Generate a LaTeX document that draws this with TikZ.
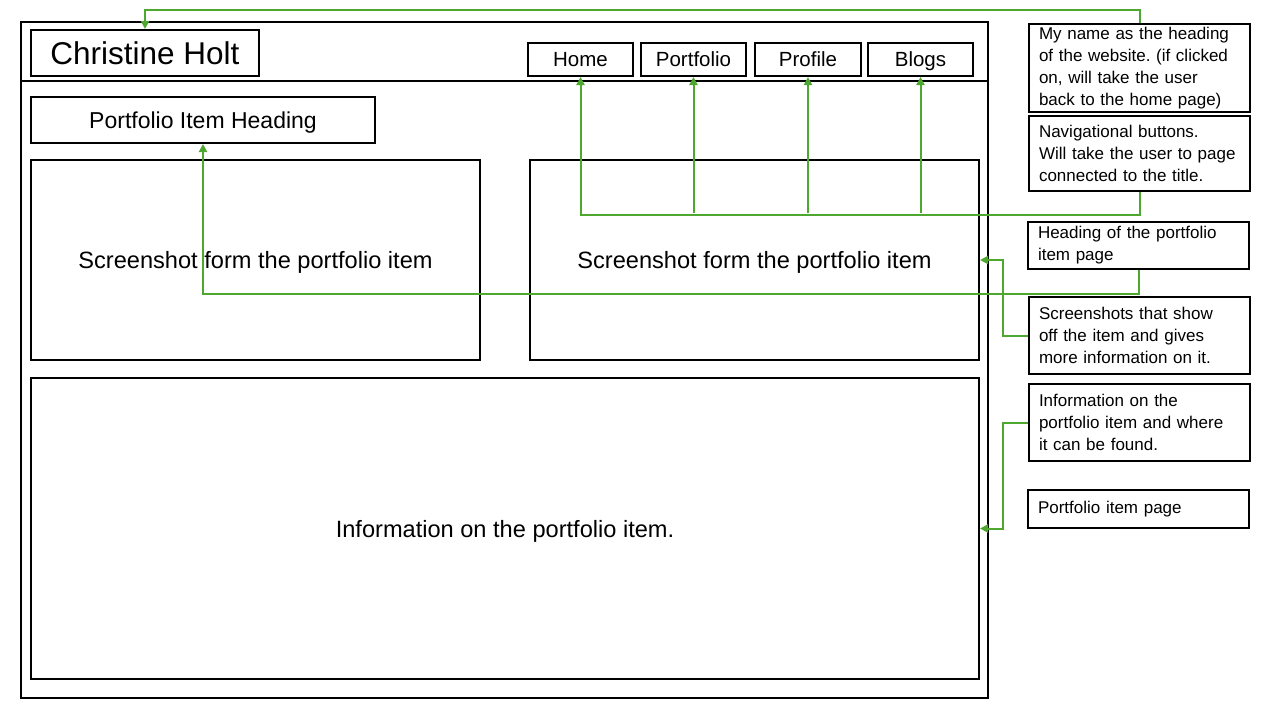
\documentclass[tikz,border=0pt]{standalone}
\usepackage{fontspec}
\setmainfont{Liberation Sans}
\usetikzlibrary{arrows.meta}
\definecolor{lgreen}{HTML}{4EA72E}
\frenchspacing
\tikzset{
  box/.style={draw=black, line width=2pt, rectangle, inner sep=0pt, anchor=north west},
  btn/.style={box, minimum height=33pt, text height=14.5pt, text depth=0pt, font=\fontsize{20.5}{24}\selectfont},
  big/.style={box, text height=17pt, text depth=0pt, font=\fontsize{23.6}{27}\selectfont},
  note/.style={draw=black, line width=2pt, rectangle, anchor=north west, inner xsep=10pt, inner ysep=0pt,
     text width=201pt, align=left, font=\fontsize{17}{22}\selectfont},
  link/.style={draw=lgreen, line width=2pt},
  linkarrow/.style={link, -{Triangle[length=8pt,width=8pt]}},
}
\begin{document}
\begin{tikzpicture}[x=1pt,y=-1pt]
\frenchspacing
\useasboundingbox (0,0) rectangle (1280,720);
% page frame
\draw[line width=2pt] (21,22) rectangle (988,698);
\draw[line width=2pt] (21,81) -- (988,81);
% header
\node[box, minimum width=228pt, minimum height=46pt, text height=22pt, text depth=0pt, font=\fontsize{31.5}{34}\selectfont] (ch) at (30,29) {Christine Holt};
\node[btn, minimum width=105pt] (home) at (527,42) {Home};
\node[btn, minimum width=105pt] (port) at (640,42) {Portfolio};
\node[btn, minimum width=106pt] (prof) at (754,42) {Profile};
\node[btn, minimum width=105pt] (blog) at (867,42) {Blogs};
% content
\node[big, minimum width=344pt, minimum height=46pt, font=\fontsize{23}{27}\selectfont] (head) at (30,96) {Portfolio Item Heading};
\node[big, minimum width=449pt, minimum height=200pt] (shotL) at (30,159) {Screenshot form the portfolio item};
\node[big, minimum width=449pt, minimum height=200pt] (shotR) at (529,159) {Screenshot form the portfolio item};
\node[big, minimum width=948pt, minimum height=301pt] (info) at (30,377) {Information on the portfolio item.};
% notes
\node[note, minimum height=88pt] (n1) at (1028,23) {My name as the heading\\of the website. (if clicked\\on, will take the user\\back to the home page)};
\node[note, minimum height=75pt] (n2) at (1028,115) {Navigational buttons.\\Will take the user to page\\connected to the title.};
\node[note, minimum height=47pt] (n3) at (1027,221) {Heading of the portfolio\\item page};
\node[note, minimum height=77pt] (n4) at (1028,296) {Screenshots that show\\off the item and gives\\more information on it.};
\node[note, minimum height=77pt] (n5) at (1028,383) {Information on the\\portfolio item and where\\it can be found.};
\node[note, minimum height=38pt] (n6) at (1027,489) {Portfolio item page};
% connectors
\draw[linkarrow] (n1.north) -- ++(0,-13) -| (ch.north);
\draw[linkarrow] (n2.south) -- ++(0,23) -| (home.south);
\coordinate (bus) at (0,213);
\draw[linkarrow] (port.south |- bus) -- (port.south);
\draw[linkarrow] (prof.south |- bus) -- (prof.south);
\draw[linkarrow] (blog.south |- bus) -- (blog.south);
\draw[linkarrow] (n3.south) -- ++(0,24) -| (head.south);
\draw[linkarrow] (n4.west) -- ++(-25,0) |- (shotR.east);
\draw[linkarrow] (n5.west) -- ++(-25,0) |- (info.east);
\end{tikzpicture}
\end{document}
